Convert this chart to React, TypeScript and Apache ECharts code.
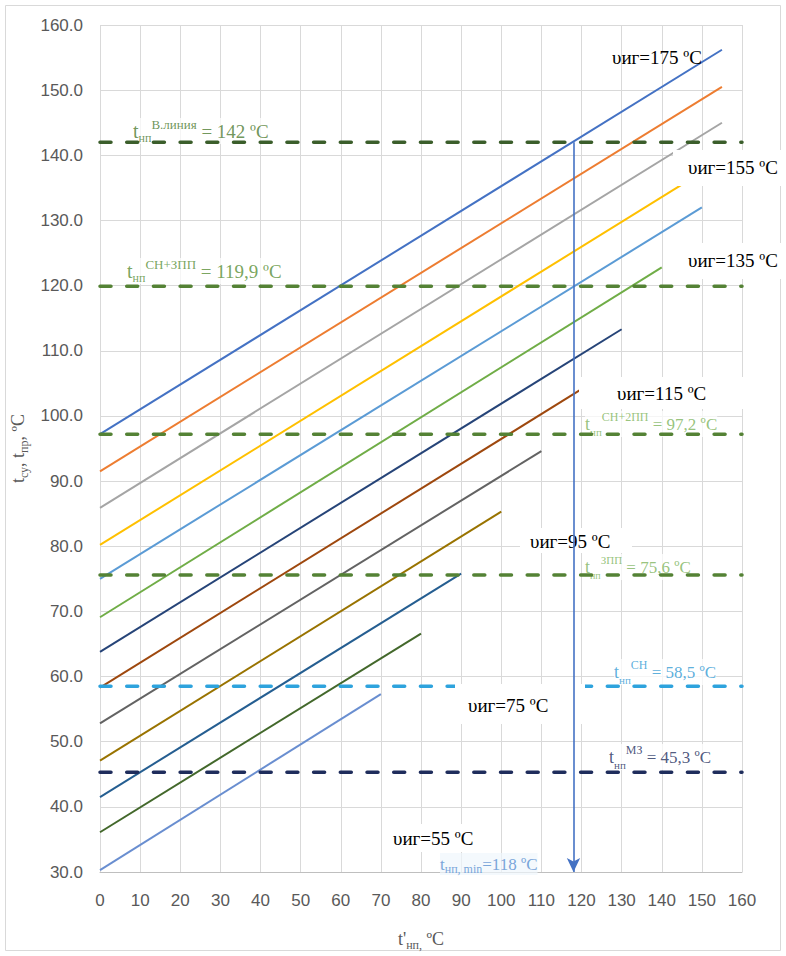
import React, { useEffect, useRef } from "react";
import * as echarts from "echarts";

// Flue-gas temperature families: start (x = 0) and end points of each straight line
const curveTemps = [175, 165, 155, 145, 135, 125, 115, 105, 95, 85, 75, 65, 55];
const curveColors = [
  "#4472C4", "#ED7D31", "#A5A5A5", "#FFC000", "#5B9BD5", "#70AD47", "#264478",
  "#9E480E", "#636363", "#997300", "#255E91", "#43682B", "#698ED0",
];
const curveStartY = [97.2, 91.5, 85.9, 80.2, 75.0, 69.1, 63.8, 58.3, 52.8, 47.1, 41.5, 36.1, 30.3];
const curveEndX = [155, 155, 155, 145, 150, 140, 130, 120, 110, 100, 90, 80, 70];
const curveEndY = [156.2, 150.5, 145.0, 135.5, 132.0, 122.8, 113.3, 104.1, 94.6, 85.3, 75.8, 66.6, 57.3];

// Reference levels (dashed horizontals)
const levelValues = [142, 119.9, 97.2, 75.6, 58.5, 45.3];
const levelTags = ["В.линия", "СН+ЗПП", "СН+2ПП", "ЗПП", "СН", "МЗ"];
const levelColors = ["#3B5E2B", "#548235", "#548235", "#548235", "#2EA3DD", "#1F2D5C"];
const levelTextColors = ["#5f8a48", "#6a9a4c", "#8cbc6e", "#8cbc6e", "#4aa6d8", "#3a4670"];

// Minimum feed-water temperature
const tMin = 118;

const xMin = 0;
const xMax = 160;
const yMin = 30;
const yMax = 160;
const step = 10;

const SERIF = '"Liberation Serif", "Times New Roman", serif';
const SANS = '"Liberation Sans", Arial, sans-serif';

// Label placement (pixels)
const curveLabelPos: Record<number, [number, number]> = {
  175: [612, 57],
  155: [688, 167],
  135: [688, 260],
  115: [617, 393],
  95: [530, 541],
  75: [468, 705],
  55: [393, 838],
};
const curveLabelBoxes: Record<number, [number, number, number, number]> = {
  155: [673, 150, 113, 36],
  135: [663, 243, 123, 36],
  115: [579, 377, 166, 32],
  95: [520, 528, 112, 25],
  75: [455, 684, 130, 40],
  55: [385, 824, 115, 28],
};
// x, y, main size, small size
const levelLabelPos: [number, number, number, number][] = [
  [133, 131, 19, 13],
  [127, 271, 19, 13],
  [585, 424, 17, 12],
  [585, 567, 17, 11],
  [614, 672, 17, 12],
  [609, 757, 17, 12],
];

const fmtComma = (v: number) => String(v).replace(".", ",");

export default function App() {
  const ref = useRef<HTMLDivElement>(null);

  useEffect(() => {
    document.body.style.margin = "0";
    const chart = echarts.init(ref.current!, null, { renderer: "svg" });

    const curveSeries = curveTemps.map((t, i) => ({
      name: `υиг=${t}`,
      type: "line",
      data: [
        [xMin, curveStartY[i]],
        [curveEndX[i], curveEndY[i]],
      ],
      symbol: "none",
      silent: true,
      lineStyle: { color: curveColors[i], width: 2 },
      z: 2,
    }));

    const levelSeries = levelValues.map((v, i) => ({
      name: `level ${v}`,
      type: "line",
      data: [
        [xMin, v],
        [xMax, v],
      ],
      symbol: "none",
      silent: true,
      lineStyle: { color: levelColors[i], width: 3.5, type: [11, 15.7], cap: "round" },
      z: 2,
    }));

    const arrowSeries = {
      name: "tmin",
      type: "line",
      data: [],
      markLine: {
        silent: true,
        symbol: ["none", "arrow"],
        symbolSize: [10, 14],
        label: { show: false },
        lineStyle: { color: "#4472C4", width: 1.6, type: "solid" },
        data: [[{ coord: [tMin, levelValues[0]] }, { coord: [tMin, yMin] }]],
      },
    };

    const graphics: any[] = [
      {
        type: "rect",
        shape: { x: 5.5, y: 5.5, width: 775, height: 945 },
        style: { fill: "none", stroke: "#d9d9d9", lineWidth: 1 },
        z: 0,
        silent: true,
      },
    ];

    // faded level captions, under the dashed lines
    levelValues.forEach((v, i) => {
      const [x, y, fs, ss] = levelLabelPos[i];
      const c = levelTextColors[i];
      const rich = {
        t: { fontFamily: SERIF, fontSize: fs + 1, lineHeight: 26, fill: c },
        sub: { fontFamily: SERIF, fontSize: ss - 1, lineHeight: 12, verticalAlign: "bottom", fill: c },
        sup: { fontFamily: SERIF, fontSize: ss, lineHeight: 13, verticalAlign: "top", fill: c },
        m: { fontFamily: SERIF, fontSize: fs, lineHeight: 26, fill: c },
      };
      graphics.push({
        type: "text",
        x,
        y,
        z: 1,
        silent: true,
        style: {
          text: `{t|t}{sub|нп}{sup|${levelTags[i]}}{m| = ${fmtComma(v)} ºC}`,
          rich,
          verticalAlign: "middle",
          backgroundColor: "rgba(255,255,255,0.8)",
          opacity: 0.9,
        },
      });
    });

    // tmin caption near the arrow foot
    graphics.push({
      type: "text",
      x: 440,
      y: 864,
      z: 1,
      silent: true,
      style: {
        text: `{t|t}{sub|нп, min}{m|=${tMin} ºC}`,
        rich: {
          t: { fontFamily: SERIF, fontSize: 17, lineHeight: 22, fill: "#7aa6da" },
          sub: { fontFamily: SERIF, fontSize: 12, lineHeight: 13, verticalAlign: "bottom", fill: "#7aa6da" },
          m: { fontFamily: SERIF, fontSize: 17, lineHeight: 22, fill: "#7aa6da" },
        },
        verticalAlign: "middle",
        backgroundColor: "rgba(240,246,252,0.7)",
      },
    });

    // white text boxes for the curve captions
    Object.keys(curveLabelBoxes).forEach((k) => {
      const [x, y, w, h] = curveLabelBoxes[+k];
      graphics.push({
        type: "rect",
        shape: { x, y, width: w, height: h },
        style: { fill: "#ffffff" },
        z: 3,
        silent: true,
      });
    });
    Object.keys(curveLabelPos).forEach((k) => {
      const [x, y] = curveLabelPos[+k];
      graphics.push({
        type: "text",
        x,
        y,
        z: 4,
        silent: true,
        style: {
          text: `υиг=${k} ºC`,
          fontFamily: SERIF,
          fontSize: 19,
          fill: "#000000",
          verticalAlign: "middle",
        },
      });
    });

    chart.setOption({
      animation: false,
      grid: { left: 100, right: 44, top: 25, bottom: 82, containLabel: false },
      xAxis: {
        type: "value",
        min: xMin,
        max: xMax,
        interval: step,
        name: "{m|t'}{sub|нп,}{m| ºC}",
        nameLocation: "middle",
        nameGap: 55,
        nameTextStyle: {
          color: "#595959",
          rich: {
            m: { fontFamily: SERIF, fontSize: 18, color: "#595959", lineHeight: 24 },
            sub: { fontFamily: SERIF, fontSize: 12, color: "#595959", lineHeight: 14, verticalAlign: "bottom" },
          },
        },
        axisLine: { show: true, lineStyle: { color: "#bfbfbf", width: 1 } },
        axisTick: { show: false },
        axisLabel: { color: "#595959", fontFamily: SANS, fontSize: 17, margin: 20 },
        splitLine: { show: true, lineStyle: { color: "#d9d9d9", width: 1 } },
      },
      yAxis: {
        type: "value",
        min: yMin,
        max: yMax,
        interval: step,
        name: "{m|t}{sub|су}{m|, t}{sub|пр}{m|, ºC}",
        nameLocation: "middle",
        nameGap: 70,
        nameRotate: 90,
        nameTextStyle: {
          color: "#595959",
          rich: {
            m: { fontFamily: SERIF, fontSize: 18, color: "#595959", lineHeight: 24 },
            sub: { fontFamily: SERIF, fontSize: 12, color: "#595959", lineHeight: 14, verticalAlign: "bottom" },
          },
        },
        axisLine: { show: false },
        axisTick: { show: false },
        axisLabel: {
          color: "#595959",
          fontFamily: SANS,
          fontSize: 17,
          margin: 17,
          formatter: (v: number) => v.toFixed(1),
        },
        splitLine: { show: true, lineStyle: { color: "#d9d9d9", width: 1 } },
      },
      series: [...curveSeries, ...levelSeries, arrowSeries],
      graphic: { elements: graphics },
    });

    return () => chart.dispose();
  }, []);

  return <div ref={ref} style={{ width: 786, height: 956 }} />;
}
